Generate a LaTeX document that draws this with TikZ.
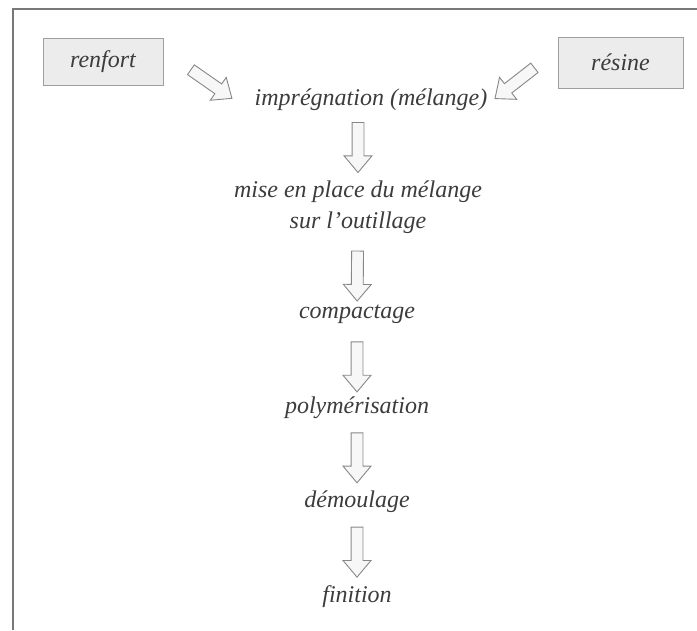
\documentclass[tikz,border=0pt]{standalone}
\usepackage{fontspec}
\setmainfont{Liberation Serif}
\usetikzlibrary{shapes.arrows,shadows,calc}
\definecolor{mytext}{RGB}{60,60,60}
\definecolor{myframe}{RGB}{120,120,120}
\definecolor{myarrow}{RGB}{135,135,135}

\tikzset{
    step label/.style={anchor=base, inner sep=0pt, text=mytext,
        font=\fontsize{24}{31}\selectfont\itshape},
    inbox/.style={draw=gray!75, fill=gray!15, inner sep=0pt,
        text=mytext, font=\fontsize{24}{31}\selectfont\itshape,
        drop shadow={shadow xshift=1pt, shadow yshift=-1pt, fill=gray!70, opacity=1}},
    blockarrow/.style={single arrow, draw=myarrow, fill=gray!6, line width=0.9pt,
        inner sep=5.5pt, minimum height=50pt, single arrow head extend=8pt,
        single arrow tip angle=80, sloped, allow upside down},
}

\begin{document}
\begin{tikzpicture}[x=1pt, y=-1pt]
    \useasboundingbox (0, 0) rectangle (697, 630);
    % Frame
    \draw[myframe, line width=1.2pt] (13, 630) -- (13, 9) -- (697, 9);
    % Inputs
    \node[inbox, minimum width=120pt, minimum height=47pt] (renfort) at (103, 61.5) {renfort};
    \node[inbox, minimum width=125pt, minimum height=51pt] (resine) at (620.5, 62.5) {résine};
    % Steps
    \node[step label] (impregnation) at (371, 105) {imprégnation (mélange)};
    \node[step label, anchor=center, align=center] (miseplace) at (358, 207)
        {mise en place du mélange\\sur l'outillage};
    \node[step label] (compactage) at (357, 318) {compactage};
    \node[step label] (polymerisation) at (357, 413) {polymérisation};
    \node[step label] (demoulage) at (357, 507) {démoulage};
    \node[step label] (finition) at (357, 602) {finition};
    % Arrow ends beside the boxes
    \coordinate (renfort out) at (187, 67);
    \coordinate (renfort in) at (230, 97);
    \coordinate (resine out) at (538, 65);
    \coordinate (resine in) at (497, 97);
    % Block arrows
    \path (renfort out) -- node[blockarrow] {} (renfort in);
    \path (resine out) -- node[blockarrow] {} (resine in);
    \path (impregnation.south -| miseplace) -- node[blockarrow, pos=0.48] {} (miseplace);
    \path (miseplace) -- node[blockarrow, pos=0.55] {} (compactage);
    \path (compactage) -- node[blockarrow, pos=0.55] {} (polymerisation);
    \path (polymerisation) -- node[blockarrow] {} (demoulage);
    \path (demoulage) -- node[blockarrow] {} (finition);
\end{tikzpicture}
\end{document}
